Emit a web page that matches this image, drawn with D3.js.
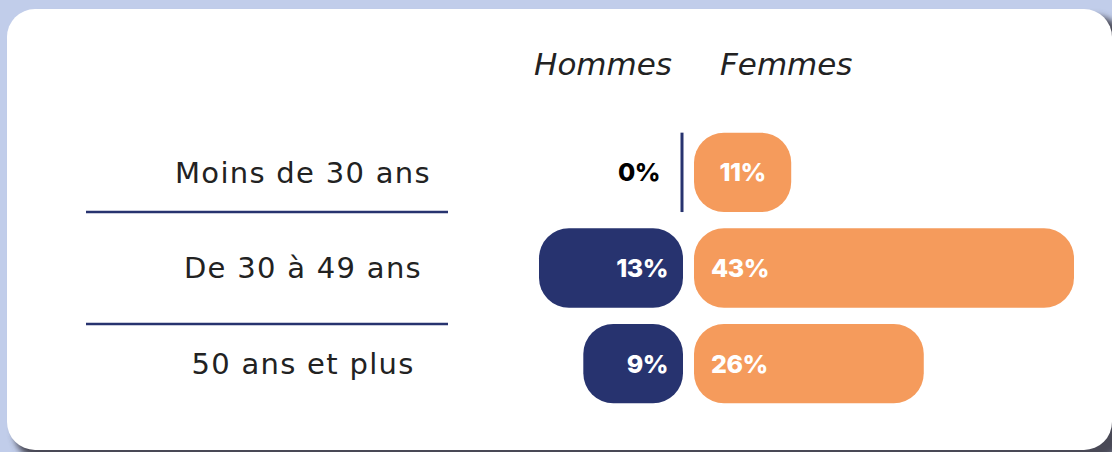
<!DOCTYPE html>
<html lang="fr">
<head>
  <meta charset="UTF-8" />
  <title>Hommes / Femmes par âge</title>
  <script src="https://cdn.jsdelivr.net/npm/d3@7/dist/d3.min.js"></script>
  <style>
    html, body { margin: 0; padding: 0; background: #c1cdea; }
    #viz { width: 1112px; height: 452px; overflow: hidden; }
  </style>
</head>
<body>
  <div id="viz"></div>

  <script>
  // Données
  const categories = ['Moins de 30 ans', 'De 30 à 49 ans', '50 ans et plus'];
  const hommes = [0, 13, 9];
  const femmes = [11, 43, 26];
  const seriesLabels = ['Hommes', 'Femmes'];

  const W = 1112, H = 452;
  const navy = '#27336f';
  const orange = '#f59b5c';

  function drawViz() {
    const svg = d3.select('#viz')
      .append('svg')
        .attr('width', W)
        .attr('height', H);

    // Ombre + carte blanche
    const defs = svg.append('defs');
    defs.append('filter')
        .attr('id', 'blur')
        .attr('x', '-10%').attr('y', '-10%')
        .attr('width', '120%').attr('height', '120%')
      .append('feGaussianBlur')
        .attr('stdDeviation', 3);

    svg.append('rect')
      .attr('x', 14).attr('y', 16)
      .attr('width', 1110).attr('height', 444)
      .attr('rx', 28)
      .attr('fill', '#4a4a56')
      .attr('filter', 'url(#blur)');
    svg.append('rect')
      .attr('x', 7).attr('y', 9)
      .attr('width', 1105).attr('height', 441)
      .attr('rx', 28)
      .attr('fill', '#ffffff');

    // Échelles
    const y = d3.scaleBand()
      .domain(categories)
      .range([125, 411])
      .paddingInner(0.17)
      .paddingOuter(0.08);

    const xMen = d3.scaleLinear()
      .domain([0, 13])
      .range([683, 539]);
    const xWomen = d3.scaleLinear()
      .domain([0, 43])
      .range([694, 1074]);

    const bw = y.bandwidth();
    const r = 30;
    const labelFont = 'Inter, "Open Sans", sans-serif';
    const catFont = '"DejaVu Sans", sans-serif';
    const headFont = '"DejaVu Sans", sans-serif';

    // En-têtes
    svg.append('text')
      .attr('x', xMen(0) - 11)
      .attr('y', 75)
      .attr('text-anchor', 'end')
      .attr('font-family', headFont)
      .attr('font-style', 'oblique')
      .attr('font-size', 31)
      .attr('fill', '#222')
      .text(seriesLabels[0]);
    svg.append('text')
      .attr('x', xWomen(0) + 26)
      .attr('y', 75)
      .attr('text-anchor', 'start')
      .attr('font-family', headFont)
      .attr('font-style', 'oblique')
      .attr('font-size', 31)
      .attr('fill', '#222')
      .text(seriesLabels[1]);

    // Libellés des catégories
    svg.selectAll('text.cat')
      .data(categories)
      .enter()
      .append('text')
        .attr('class', 'cat')
        .attr('x', 303)
        .attr('y', d => y(d) + bw / 2)
        .attr('dy', '0.36em')
        .attr('text-anchor', 'middle')
        .attr('font-family', catFont)
        .attr('font-size', 29)
        .attr('letter-spacing', 1.3)
        .attr('fill', '#222')
        .text(d => d);

    // Séparateurs (collés aux lignes extérieures)
    const last = categories.length - 1;
    const sepY = d3.range(last).map(i =>
      i < last / 2 ? y(categories[i]) + bw : y(categories[i + 1]));
    svg.selectAll('line.sep')
      .data(sepY)
      .enter()
      .append('line')
        .attr('class', 'sep')
        .attr('x1', 86).attr('x2', 448)
        .attr('y1', d => d).attr('y2', d => d)
        .attr('stroke', navy)
        .attr('stroke-width', 2.5);

    const rows = categories.map((c, i) => ({ cat: c, h: hommes[i], f: femmes[i] }));

    // Barres hommes
    svg.selectAll('rect.men')
      .data(rows.filter(d => d.h > 0))
      .enter()
      .append('rect')
        .attr('class', 'men')
        .attr('x', d => xMen(d.h))
        .attr('y', d => y(d.cat))
        .attr('width', d => xMen(0) - xMen(d.h))
        .attr('height', bw)
        .attr('rx', r)
        .attr('fill', navy);

    // Valeur nulle : simple trait
    svg.selectAll('line.zero')
      .data(rows.filter(d => d.h === 0))
      .enter()
      .append('line')
        .attr('class', 'zero')
        .attr('x1', xMen(0) - 1).attr('x2', xMen(0) - 1)
        .attr('y1', d => y(d.cat)).attr('y2', d => y(d.cat) + bw)
        .attr('stroke', navy)
        .attr('stroke-width', 3);

    svg.selectAll('text.men')
      .data(rows)
      .enter()
      .append('text')
        .attr('class', 'men')
        .attr('x', d => d.h > 0 ? xMen(0) - 15 : xMen(0) - 23)
        .attr('y', d => y(d.cat) + bw / 2)
        .attr('dy', '0.36em')
        .attr('text-anchor', 'end')
        .attr('font-family', labelFont)
        .attr('font-weight', 800)
        .attr('font-size', 25)
        .attr('letter-spacing', -0.5)
        .attr('fill', d => d.h > 0 ? '#fff' : '#000')
        .text(d => d.h + '%');

    // Barres femmes
    svg.selectAll('rect.women')
      .data(rows)
      .enter()
      .append('rect')
        .attr('class', 'women')
        .attr('x', xWomen(0))
        .attr('y', d => y(d.cat))
        .attr('width', d => xWomen(d.f) - xWomen(0))
        .attr('height', bw)
        .attr('rx', r)
        .attr('fill', orange);

    svg.selectAll('text.women')
      .data(rows)
      .enter()
      .append('text')
        .attr('class', 'women')
        .attr('x', d => {
          const w = xWomen(d.f) - xWomen(0);
          return w < 150 ? xWomen(0) + w / 2 : xWomen(0) + 17;
        })
        .attr('y', d => y(d.cat) + bw / 2)
        .attr('dy', '0.36em')
        .attr('text-anchor', d => (xWomen(d.f) - xWomen(0)) < 150 ? 'middle' : 'start')
        .attr('font-family', labelFont)
        .attr('font-weight', 800)
        .attr('font-size', 25)
        .attr('letter-spacing', -0.5)
        .attr('fill', '#fff')
        .text(d => d.f + '%');
  }

  document.addEventListener('DOMContentLoaded', drawViz);
  </script>
</body>
</html>
